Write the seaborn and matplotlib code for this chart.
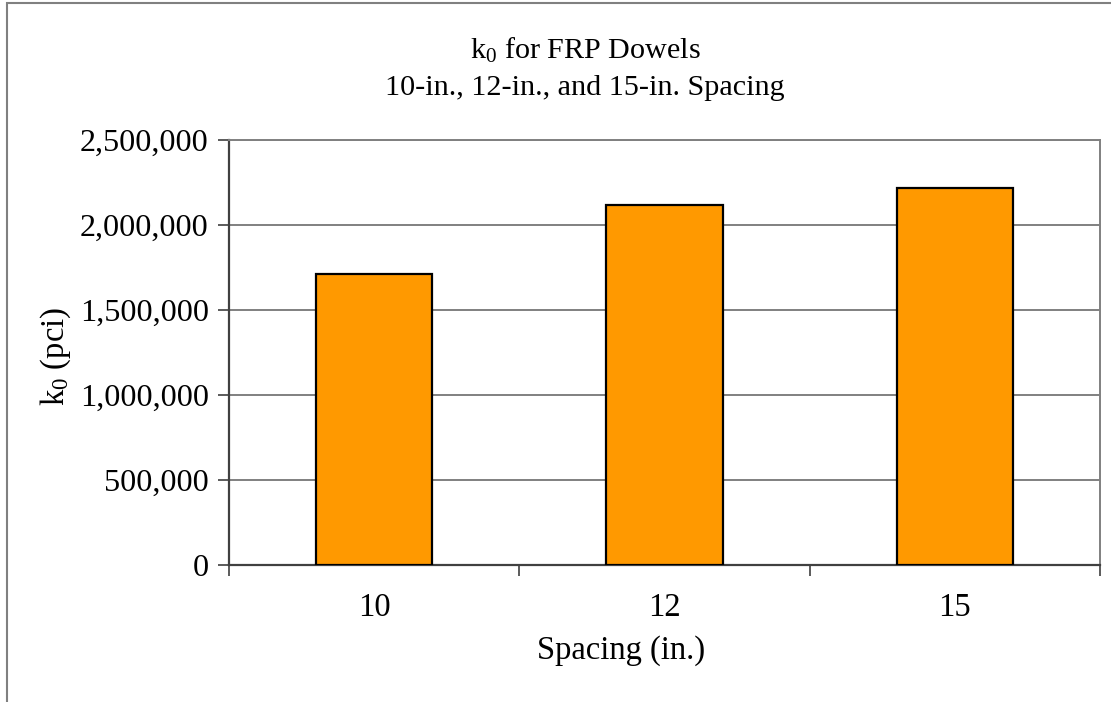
import matplotlib
matplotlib.use("Agg")
import matplotlib.pyplot as plt
import seaborn as sns
import pandas as pd
from matplotlib.patches import Rectangle
from matplotlib.ticker import FuncFormatter

spacing = ["10", "12", "15"]
k0_values = [1710000, 2118000, 2215000]
y_ticks = [0, 500000, 1000000, 1500000, 2000000, 2500000]

sns.set_theme(style="white")
plt.rcParams["font.family"] = ["Liberation Serif", "DejaVu Serif"]
plt.rcParams["mathtext.fontset"] = "custom"
plt.rcParams["mathtext.rm"] = "Liberation Serif"
plt.rcParams["mathtext.it"] = "Liberation Serif:italic"
plt.rcParams["text.color"] = "black"
plt.rcParams["axes.labelcolor"] = "black"
plt.rcParams["xtick.color"] = "black"
plt.rcParams["ytick.color"] = "black"

df = pd.DataFrame({"Spacing": spacing, "k0": k0_values})

W, H = 1111, 702
fig = plt.figure(figsize=(W / 100, H / 100), dpi=100)
fig.patch.set_facecolor("white")
# chart frame
fig.add_artist(Rectangle((7 / W, -0.1), 1.2, 1.1 - 3 / H, transform=fig.transFigure,
                         fill=False, edgecolor="#808080", linewidth=1.5))

ax = fig.add_axes([229 / W, 1 - 565 / H, (1100 - 229) / W, (565 - 140) / H])
sns.barplot(data=df, x="Spacing", y="k0", order=spacing, color="#FF9900",
            saturation=1, width=0.4, edgecolor="black", linewidth=1.6, ax=ax, zorder=3)

ax.set_xlim(-0.5, 2.5)
ax.set_ylim(0, 2500000)
ax.set_yticks(y_ticks)
ax.yaxis.set_major_formatter(FuncFormatter(lambda v, p: f"{int(v):,}"))
ax.grid(axis="y", color="#808080", linewidth=1.4, zorder=0)
ax.set_axisbelow(True)

# category boundary ticks with centred labels
ax.set_xticks([-0.5, 0.5, 1.5, 2.5])
ax.set_xticklabels([])
ax.set_xticks([0, 1, 2], minor=True)
ax.set_xticklabels(spacing, minor=True)
ax.tick_params(axis="x", which="major", direction="out", length=8, width=1.2,
               color="#404040", bottom=True)
ax.tick_params(axis="x", which="minor", length=0, pad=20, labelsize=23.5)
ax.tick_params(axis="y", direction="out", length=8, width=1.2, color="#404040",
               left=True, labelsize=23.2, pad=6.5)

for s in ["left", "bottom"]:
    ax.spines[s].set_color("#404040")
    ax.spines[s].set_linewidth(1.6)
for s in ["right", "top"]:
    ax.spines[s].set_color("#808080")
    ax.spines[s].set_linewidth(1.4)

ax.set_xlabel("Spacing (in.)", fontsize=23.5)
ax.xaxis.set_label_coords((621 - 229) / 871, -0.165)
ax.set_ylabel(r"k$_\mathregular{0}$ (pci)", fontsize=23.5)
ax.yaxis.set_label_coords((73 - 229) / 871, 0.49)

fig.text(585 / W, 1 - 59 / H, r"k$_\mathregular{0}$ for FRP Dowels",
         ha="center", va="baseline", fontsize=21.7)
fig.text(585 / W, 1 - 95 / H, "10-in., 12-in., and 15-in. Spacing",
         ha="center", va="baseline", fontsize=21.7)

fig.savefig("out.png", dpi=100, facecolor="white")
